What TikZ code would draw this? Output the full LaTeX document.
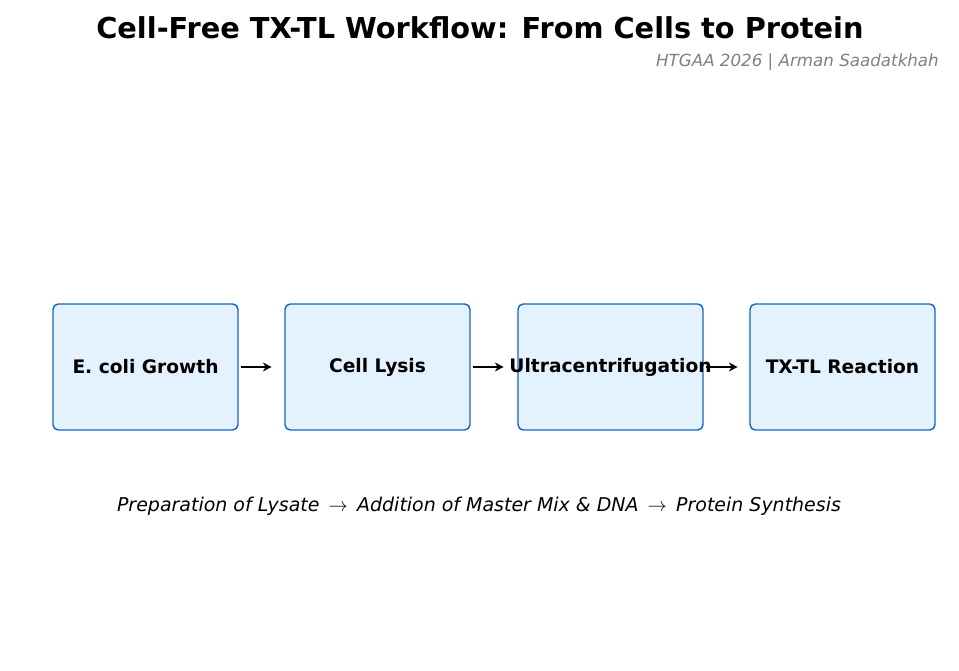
\documentclass[tikz,border=0pt]{standalone}
\usepackage{fontspec}
\usetikzlibrary{arrows.meta}
\setmainfont{DejaVu Sans}
\definecolor{bfill}{HTML}{E3F2FD}
\definecolor{bdraw}{HTML}{1565C0}
\begin{document}
\begin{tikzpicture}[x=0.02cm,y=-0.02cm,
  box/.style={draw=bdraw, fill=bfill, line width=0.8pt, rounded corners=3pt, minimum width=185*0.02cm, minimum height=126*0.02cm, inner sep=0pt, font=\fontsize{10.6}{12}\selectfont\bfseries},
  arr/.style={-{Stealth[length=5pt,width=5pt]}, line width=1.3pt}]
\useasboundingbox (0,0) rectangle (959,671);
\node[font=\fontsize{16.4}{19}\selectfont\bfseries] (t) at (480,28) {Cell-Free TX-TL Workflow: From Cells to Protein};
\node[anchor=east, text=gray, font=\fontsize{9.5}{11}\selectfont\itshape] (s) at (945,62) {HTGAA 2026 | Arman Saadatkhah};
\node[box] (a) at (145.5,367) {\makebox[0pt]{E. coli Growth}};
\node[box] (b) at (377.5,367) {\makebox[0pt]{Cell Lysis}};
\node[box] (c) at (610.5,367) {\makebox[0pt]{Ultracentrifugation}};
\node[box] (d) at (842.5,367) {\makebox[0pt]{TX-TL Reaction}};
\draw[arr] (a.east)++(2,0) -- ++(31,0);
\draw[arr] (b.east)++(2,0) -- ++(31,0);
\draw[arr] (c.east)++(2,0) -- ++(32,0);
\node[font=\fontsize{10.8}{12}\selectfont\itshape] (cap) at (479,506) {Preparation of Lysate \,$\rightarrow$\, Addition of Master Mix \& DNA \,$\rightarrow$\, Protein Synthesis};
\end{tikzpicture}
\end{document}
